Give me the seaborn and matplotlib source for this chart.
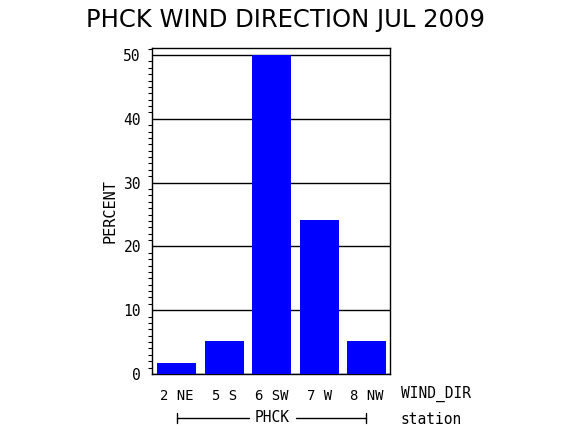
import numpy as np
import pandas as pd
import seaborn as sns
import matplotlib.pyplot as plt
from matplotlib.ticker import MultipleLocator

# data
directions = ["2 NE", "5 S", "6 SW", "7 W", "8 NW"]
percent = [1.7, 5.2, 50.0, 24.1, 5.2]
station = "PHCK"
month_label = "JUL 2009"

df = pd.DataFrame({"WIND_DIR": directions, "PERCENT": percent})

sns.set_style("white")
plt.rcParams['font.family'] = ['DejaVu Sans']
plt.rcParams['text.color'] = 'black'
plt.rcParams['xtick.color'] = 'black'
plt.rcParams['ytick.color'] = 'black'
plt.rcParams['axes.labelcolor'] = 'black'

fig = plt.figure(figsize=(5.7, 4.3), dpi=100)
ax = fig.add_axes([152 / 570, 1 - 374 / 430, 238 / 570, 326 / 430])

sns.barplot(data=df, x="WIND_DIR", y="PERCENT", color="#0000ff",
            saturation=1, width=0.82, ax=ax, zorder=3,
            edgecolor='none', linewidth=0)

ax.set_ylim(0, 51.1)
ax.set_xlim(-0.52, 4.49)
ax.yaxis.set_major_locator(MultipleLocator(10))
ax.yaxis.set_minor_locator(MultipleLocator(1))
ax.grid(axis='y', color='black', linewidth=1, zorder=1)
ax.set_axisbelow(True)
for s in ax.spines.values():
    s.set_color('black')
    s.set_linewidth(1)

mono = 'DejaVu Sans Mono'
ax.tick_params(axis='y', which='major', direction='out', length=6, width=1,
               labelsize=10.5, pad=2)
ax.tick_params(axis='y', which='minor', direction='out', length=3, width=0.8,
               left=True)
ax.tick_params(axis='x', length=0, labelsize=10, pad=11)
ax.set_yticks(range(0, 51, 10))
ax.set_yticklabels([str(v) for v in range(0, 51, 10)], family=mono)
ax.set_xticks(range(len(directions)))
ax.set_xticklabels(directions, family=mono)
ax.set_xlabel("")
ax.set_ylabel("PERCENT", family=mono, fontsize=11, labelpad=4)

fig.text(285 / 570, 1 - 20 / 430, f"{station} WIND DIRECTION {month_label}",
         ha='center', va='center', fontsize=17.5)
fig.text(401 / 570, 1 - 394 / 430, "WIND_DIR", ha='left', va='center',
         fontsize=10.5, family=mono)
fig.text(401 / 570, 1 - 419 / 430, "station", ha='left', va='center',
         fontsize=10.5, family=mono)
fig.text(272 / 570, 1 - 418 / 430, station, ha='center', va='center',
         fontsize=10.5, family=mono)

# group bracket under the categories
y_br = 1 - 418 / 430
fig.add_artist(plt.Line2D([177 / 570, 249 / 570], [y_br, y_br], color='black', lw=1))
fig.add_artist(plt.Line2D([296 / 570, 366 / 570], [y_br, y_br], color='black', lw=1))
for xb in (177 / 570, 366 / 570):
    fig.add_artist(plt.Line2D([xb, xb], [y_br - 5 / 430, y_br + 5 / 430],
                              color='black', lw=1))

fig.savefig("out.png", dpi=100)
